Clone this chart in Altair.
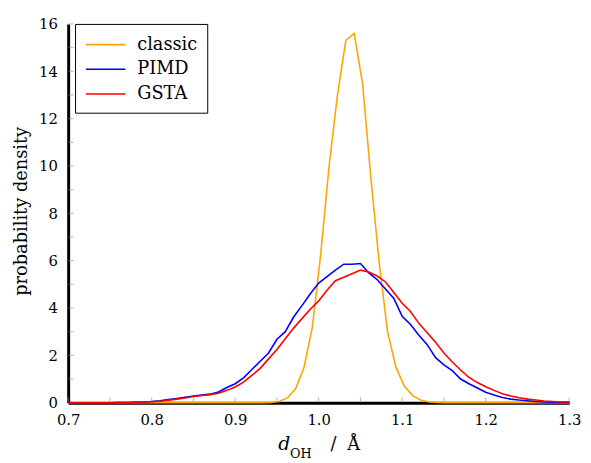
import altair as alt
import pandas as pd

FONT = "DejaVu Serif"

# ---- data ----
x_grid = [0.70, 0.71, 0.72, 0.73, 0.74, 0.75, 0.76, 0.77, 0.78, 0.79,
          0.80, 0.81, 0.82, 0.83, 0.84, 0.85, 0.86, 0.87, 0.88, 0.89,
          0.90, 0.91, 0.92, 0.93, 0.94, 0.95, 0.96, 0.97, 0.98, 0.99,
          1.00, 1.01, 1.02, 1.03, 1.04, 1.05, 1.06, 1.07, 1.08, 1.09,
          1.10, 1.11, 1.12, 1.13, 1.14, 1.15, 1.16, 1.17, 1.18, 1.19,
          1.20, 1.21, 1.22, 1.23, 1.24, 1.25, 1.26, 1.27, 1.28, 1.29,
          1.30]

pimd = [0.00, 0.00, 0.00, 0.00, 0.00, 0.00, 0.01, 0.01, 0.02, 0.03,
        0.05, 0.08, 0.13, 0.18, 0.23, 0.28, 0.32, 0.36, 0.45, 0.64,
        0.80, 1.05, 1.40, 1.75, 2.10, 2.68, 3.00, 3.62, 4.10, 4.60,
        5.05, 5.33, 5.60, 5.85, 5.85, 5.88, 5.48, 5.20, 4.80, 4.40,
        3.65, 3.30, 2.85, 2.45, 1.90, 1.60, 1.35, 1.00, 0.80, 0.62,
        0.44, 0.32, 0.22, 0.15, 0.11, 0.08, 0.05, 0.03, 0.02, 0.02,
        0.02]

gsta = [0.00, 0.00, 0.00, 0.00, 0.00, 0.00, 0.01, 0.01, 0.02, 0.03,
        0.04, 0.06, 0.10, 0.15, 0.20, 0.26, 0.30, 0.34, 0.40, 0.52,
        0.66, 0.87, 1.15, 1.45, 1.85, 2.25, 2.70, 3.15, 3.55, 3.95,
        4.30, 4.75, 5.15, 5.30, 5.45, 5.60, 5.52, 5.35, 5.10, 4.65,
        4.20, 3.85, 3.35, 2.95, 2.55, 2.10, 1.72, 1.38, 1.07, 0.85,
        0.67, 0.52, 0.38, 0.28, 0.21, 0.15, 0.11, 0.07, 0.05, 0.03,
        0.03]

classic_x = [0.70, 0.9325, 0.9425, 0.9525, 0.9625, 0.9725, 0.9825, 0.9925,
             1.0025, 1.0125, 1.0225, 1.0325, 1.0425, 1.0525, 1.0625, 1.0725,
             1.0825, 1.0925, 1.1025, 1.1125, 1.1225, 1.1325, 1.1425, 1.1525,
             1.30]
classic_y = [0.00, 0.00, 0.01, 0.05, 0.20, 0.60, 1.50, 3.20,
             6.30, 10.00, 13.00, 15.30, 15.60, 13.50, 9.50, 5.90,
             3.00, 1.50, 0.70, 0.30, 0.10, 0.03, 0.01, 0.00,
             0.00]

series_names = ["classic", "PIMD", "GSTA"]
series_colors = ["#FFA500", "#0000FF", "#FF0000"]

x_label_values = [0.7, 0.8, 0.9, 1.0, 1.1, 1.2, 1.3]
y_label_values = [0, 2, 4, 6, 8, 10, 12, 14, 16]
x_tick_values = [0.70, 0.75, 0.80, 0.85, 0.90, 0.95, 1.00, 1.05, 1.10,
                 1.15, 1.20, 1.25, 1.30]
y_tick_values = [0, 1, 2, 3, 4, 5, 6, 7, 8, 9, 10, 11, 12, 13, 14, 15, 16]

# ---- build table ----
rows = []
for xv, yv in zip(classic_x, classic_y):
    rows.append({"d": xv, "p": yv, "s": "classic"})
for xv, yv in zip(x_grid, pimd):
    rows.append({"d": xv, "p": yv, "s": "PIMD"})
for xv, yv in zip(x_grid, gsta):
    rows.append({"d": xv, "p": yv, "s": "GSTA"})
df = pd.DataFrame(rows)

x_scale = alt.Scale(domain=[0.7, 1.3], nice=False, zero=False)
y_scale = alt.Scale(domain=[0, 16], nice=False)

lines = alt.Chart(df).mark_line(strokeWidth=1.6).encode(
    x=alt.X("d:Q", scale=x_scale,
            axis=alt.Axis(values=x_label_values, format=".1f", title=None,
                          ticks=False, grid=False, domainColor="black",
                          domainWidth=3, labelFont=FONT, labelFontSize=15,
                          labelColor="black", labelPadding=10,
                          labelFlush=False)),
    y=alt.Y("p:Q", scale=y_scale,
            axis=alt.Axis(values=y_label_values, title=None, ticks=False,
                          grid=False, domainColor="black", domainWidth=3,
                          labelFont=FONT, labelFontSize=15,
                          labelColor="black", labelPadding=11)),
    color=alt.Color("s:N",
                    scale=alt.Scale(domain=series_names, range=series_colors),
                    sort=series_names,
                    legend=alt.Legend(orient="none", legendX=7, legendY=0,
                                      title=None, strokeColor="black",
                                      fillColor="white", padding=10,
                                      cornerRadius=0, labelFont=FONT,
                                      labelFontSize=18, labelColor="black",
                                      symbolType="M-1,0L3,0", symbolSize=400,
                                      symbolStrokeWidth=1.6, labelOffset=31,
                                      rowPadding=5)),
)

xt_df = pd.DataFrame({"d": x_tick_values, "p": [0] * len(x_tick_values)})
x_ticks = alt.Chart(xt_df).mark_tick(orient="vertical", size=5, thickness=1,
                                     color="#999999", yOffset=-3).encode(
    x=alt.X("d:Q", scale=x_scale), y=alt.Y("p:Q", scale=y_scale))

yt_df = pd.DataFrame({"d": [0.7] * len(y_tick_values), "p": y_tick_values})
y_ticks = alt.Chart(yt_df).mark_tick(orient="horizontal", size=5, thickness=1,
                                     color="#999999", xOffset=3).encode(
    x=alt.X("d:Q", scale=x_scale), y=alt.Y("p:Q", scale=y_scale))


def label(txt, x, y, size, style="normal", angle=0, align="left",
          baseline="alphabetic"):
    return alt.Chart(pd.DataFrame({"t": [txt]})).mark_text(
        font=FONT, fontSize=size, fontStyle=style, angle=angle, align=align,
        baseline=baseline, color="black").encode(
        text="t:N", x=alt.value(x), y=alt.value(y))


y_title = label("probability density", -47, 190, 18, angle=270,
                align="center", baseline="middle")
t_d = label("d", 213, 432, 19, style="italic")
t_oh = label("OH", 225, 440, 13)
t_slash = label("/", 266, 432, 18)
t_ang = label("Å", 283, 432, 18)

chart = alt.layer(y_ticks, x_ticks, lines, y_title, t_d, t_oh, t_slash,
                  t_ang).properties(
    width=508, height=384,
    autosize=alt.AutoSizeParams(type="none"),
    padding={"left": 61, "top": 13, "right": 14, "bottom": 58},
).configure_view(stroke=None)

chart.save("out.html", embed_options={"renderer": "svg", "actions": False})
